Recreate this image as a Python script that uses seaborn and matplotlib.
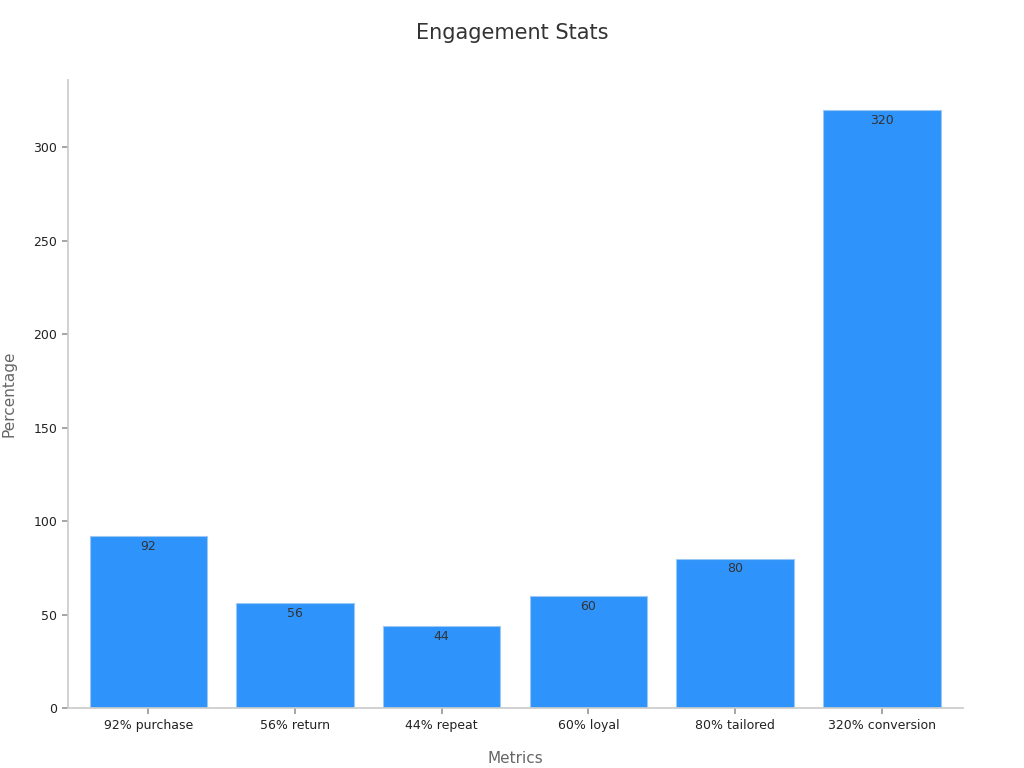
import matplotlib
matplotlib.use("Agg")
import matplotlib.pyplot as plt
import seaborn as sns
import pandas as pd

categories = ["92% purchase", "56% return", "44% repeat", "60% loyal", "80% tailored", "320% conversion"]
values = [92, 56, 44, 60, 80, 320]

df = pd.DataFrame({"Metrics": categories, "Percentage": values})
sns.set_theme(style="white")
fig = plt.figure(figsize=(10.24, 7.68), dpi=100)
ax = fig.add_axes([0.066, 0.078, 0.874, 0.818])
sns.barplot(data=df, x="Metrics", y="Percentage", color="#2E93FA", saturation=1,
            width=0.8, edgecolor="#9cc8f5", linewidth=0.8, ax=ax)
for p, v in zip(ax.patches, values):
    ax.text(p.get_x() + p.get_width() / 2, v - 2, f"{v}", ha="center", va="top",
            fontsize=9, color="#333333")
ax.set_ylim(0, 336)
ax.set_xlim(-0.55, 5.55)
ax.set_yticks([0, 50, 100, 150, 200, 250, 300])
for s in ["top", "right"]:
    ax.spines[s].set_visible(False)
for s in ["left", "bottom"]:
    ax.spines[s].set_color("#cccccc")
ax.tick_params(axis="both", labelsize=9, colors="#222222", length=4, color="#999999", bottom=True, left=True)
ax.set_xlabel("Metrics", fontsize=11, color="#666666", labelpad=14)
ax.set_ylabel("Percentage", fontsize=11, color="#666666", labelpad=12)
fig.suptitle("Engagement Stats", fontsize=15, color="#333333", y=0.97)
fig.savefig("out.png", dpi=100)
